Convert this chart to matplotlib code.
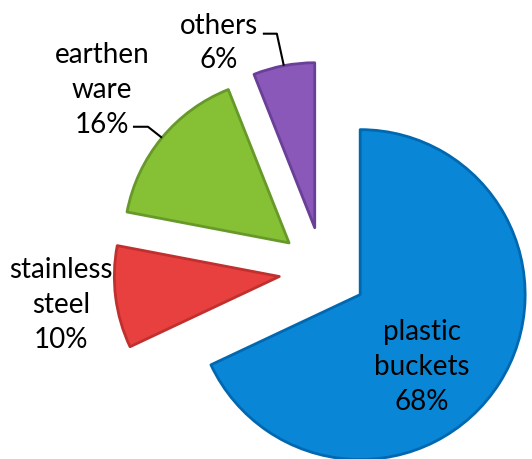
import numpy as np
import matplotlib
matplotlib.use('Agg')
import matplotlib.pyplot as plt

# slice data, clockwise from 12 o'clock
labels = ["plastic\nbuckets", "stainless\nsteel", "earthen\nware", "others"]
shares = [68, 10, 16, 6]
colors = ["#0a86d6", "#e8403f", "#86c034", "#8a58b8"]
edges = ["#0068b0", "#c0302f", "#66992a", "#6a3f98"]

explode = 0.267
start = 90

plt.rcParams['font.family'] = ['Lato', 'DejaVu Sans']

fig = plt.figure(figsize=(5.32, 4.59), dpi=100)
ax = fig.add_axes([0, 0, 1, 1])

wedges, _ = ax.pie(shares, colors=colors, startangle=start, counterclock=False,
                   explode=[explode] * len(shares), radius=1.0,
                   wedgeprops=dict(linewidth=2))
for w, ec in zip(wedges, edges):
    w.set_edgecolor(ec)
    w.set_joinstyle('round')

# mid angles of the wedges (radians)
mids = [np.deg2rad((w.theta1 + w.theta2) / 2) for w in wedges]

def place(i, r, dang=0.0):
    a = mids[i] + np.deg2rad(dang)
    ox, oy = explode * np.cos(mids[i]), explode * np.sin(mids[i])
    return ox + r * np.cos(a), oy + r * np.sin(a)

fs = 20
texts = [f"{l}\n{s}%" for l, s in zip(labels, shares)]
# label placement: (radius, angle shift from mid)
lab_pos = [(0.577, -17.1), (1.334, 0.2), (1.464, 0.3), (1.261, 16.6)]
for i, t in enumerate(texts):
    x, y = place(i, *lab_pos[i])
    ax.text(x, y, t, ha='center', va='center', fontsize=fs,
            linespacing=1.42, color='black')

# leader lines for the two upper labels
px = 1 / 165.0
leaders = {3: ((-7, 32), (-21, 32)), 2: ((-14, 11), (-29, 11))}
for i, (c1, c2) in leaders.items():
    x0, y0 = place(i, 1.0)
    xs = [x0, x0 + c1[0] * px, x0 + c2[0] * px]
    ys = [y0, y0 + c1[1] * px, y0 + c2[1] * px]
    ax.plot(xs, ys, color='black', lw=1.5, solid_capstyle='butt')

ax.set_xlim(-1.958, 1.267)
ax.set_ylim(-1.139, 1.642)
ax.set_aspect('equal')
ax.axis('off')

plt.savefig('out.png', dpi=100)
